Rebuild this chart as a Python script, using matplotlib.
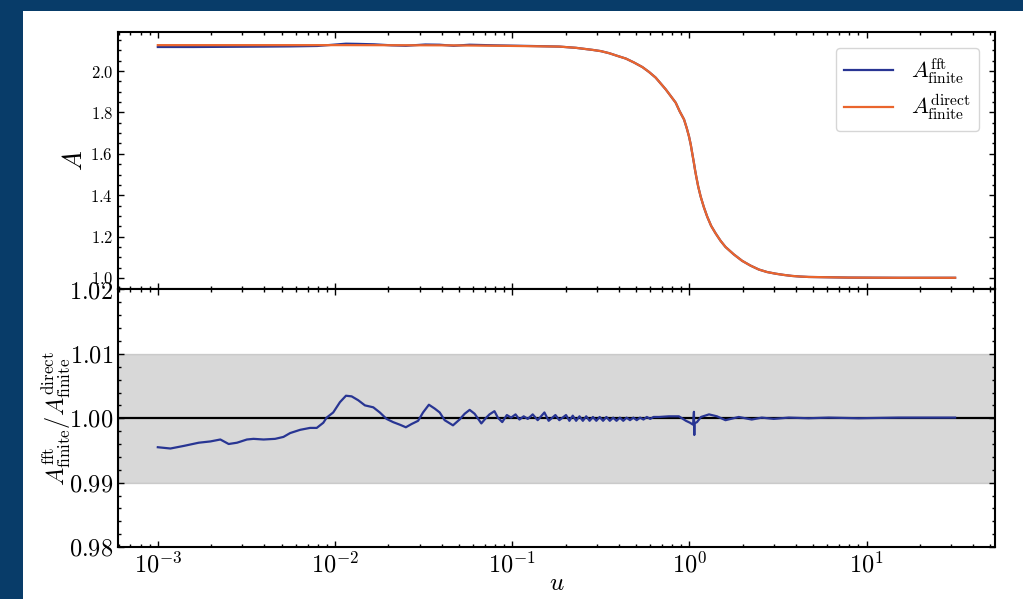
import numpy as np
import matplotlib
matplotlib.use('Agg')
import matplotlib.pyplot as plt
from matplotlib.patches import Rectangle
from matplotlib.ticker import AutoMinorLocator, MultipleLocator

# log10(u) positions and values
ratio_logu = [-3.000, -2.929, -2.854, -2.769, -2.703, -2.647, -2.600, -2.553, -2.497, -2.460,
              -2.403, -2.338, -2.291, -2.253, -2.197, -2.141, -2.103, -2.066, -2.047, -2.010,
              -1.972, -1.938, -1.906, -1.869, -1.831, -1.784, -1.747, -1.709, -1.672, -1.634,
              -1.600, -1.568, -1.531, -1.503, -1.470, -1.437, -1.409, -1.381, -1.334, -1.297,
              -1.268, -1.240, -1.212, -1.174, -1.146, -1.128, -1.100, -1.081, -1.056, -1.030,
              -1.006, -0.981, -0.959, -0.935, -0.912, -0.884, -0.856, -0.818, -0.794, -0.756,
              -0.734, -0.696, -0.677, -0.658, -0.639, -0.620, -0.601, -0.582, -0.563, -0.544,
              -0.525, -0.506, -0.487, -0.468, -0.449, -0.430, -0.411, -0.392, -0.373, -0.354,
              -0.335, -0.316, -0.297, -0.278, -0.259, -0.240, -0.221, -0.202, -0.171, -0.115,
              -0.059, -0.019, 0.004, 0.021, 0.026, 0.028, 0.029, 0.043, 0.066, 0.111,
              0.156, 0.204, 0.279, 0.352, 0.409, 0.476, 0.561, 0.673, 0.786, 0.955,
              1.180, 1.500]
ratio = [0.9955, 0.9953, 0.9957, 0.9962, 0.9964, 0.9967, 0.9960, 0.9962, 0.9967, 0.9968,
         0.9967, 0.9968, 0.9971, 0.9977, 0.9982, 0.9985, 0.9985, 0.9993, 1.0001, 1.0009,
         1.0025, 1.0035, 1.0034, 1.0028, 1.0020, 1.0017, 1.0009, 0.9999, 0.9994, 0.9990,
         0.9986, 0.9991, 0.9996, 1.0009, 1.0021, 1.0015, 1.0009, 0.9997, 0.9989, 0.9998,
         1.0007, 1.0013, 1.0007, 0.9992, 1.0001, 1.0006, 1.0011, 1.0001, 0.9994, 1.0005,
         1.0001, 1.0006, 0.9998, 1.0003, 0.9999, 1.0006, 0.9997, 1.0009, 0.9996, 1.0005,
         0.9997, 1.0005, 0.9996, 1.0004, 0.9996, 1.0003, 0.9996, 1.0003, 0.9996, 1.0002,
         0.9996, 1.0002, 0.9996, 1.0002, 0.9996, 1.0001, 0.9996, 1.0001, 0.9996, 1.0001,
         0.9997, 1.0001, 0.9997, 1.0001, 0.9998, 1.0002, 0.9999, 1.0002, 1.0002, 1.0003,
         1.0003, 0.9996, 0.9993, 0.9990, 1.0010, 0.9974, 0.9992, 0.9994, 1.0002, 1.0006,
         1.0003, 0.9997, 1.0002, 0.9998, 1.0001, 0.9999, 1.0001, 1.0000, 1.0001, 1.0000,
         1.0001, 1.0001]

direct_logu = [-3.000, -2.478, -1.916, -1.353, -1.072, -0.734, -0.640, -0.546, -0.499, -0.452,
               -0.406, -0.358, -0.312, -0.265, -0.227, -0.190, -0.162, -0.133, -0.105, -0.077,
               -0.055, -0.030, -0.015, -0.002, 0.008, 0.016, 0.026, 0.032, 0.039, 0.050,
               0.064, 0.082, 0.101, 0.123, 0.148, 0.176, 0.204, 0.251, 0.298, 0.345,
               0.392, 0.438, 0.486, 0.532, 0.579, 0.626, 0.673, 0.898, 1.180, 1.500]
A_direct = [2.125, 2.125, 2.125, 2.124, 2.122, 2.118, 2.112, 2.102, 2.096, 2.086,
            2.073, 2.060, 2.041, 2.019, 1.995, 1.968, 1.940, 1.911, 1.879, 1.847,
            1.806, 1.766, 1.725, 1.684, 1.644, 1.604, 1.555, 1.523, 1.490, 1.442,
            1.393, 1.342, 1.296, 1.252, 1.216, 1.180, 1.150, 1.114, 1.083, 1.060,
            1.041, 1.029, 1.021, 1.015, 1.010, 1.007, 1.005, 1.002, 1.001, 1.001]

# fft curve where it differs visibly from the direct one; afterwards it follows it
fft_head_logu = [-3.000, -2.800, -2.600, -2.400, -2.250, -2.100, -2.010, -1.938, -1.870, -1.780,
                 -1.680, -1.600, -1.490, -1.410, -1.330, -1.240, -1.100, -0.900]
fft_head = [2.116, 2.116, 2.117, 2.118, 2.119, 2.121, 2.127, 2.132, 2.131, 2.129,
            2.124, 2.122, 2.128, 2.127, 2.122, 2.127, 2.124, 2.121]

fft_logu = fft_head_logu + direct_logu[5:]
A_fft = fft_head + A_direct[5:]

c_fft = '#283593'
c_direct = '#ea652d'

plt.rcParams['font.family'] = 'serif'
plt.rcParams['font.serif'] = ['cmr10']
plt.rcParams['mathtext.fontset'] = 'cm'
plt.rcParams['axes.formatter.use_mathtext'] = True
plt.rcParams['axes.unicode_minus'] = False
for ax_name in ['xtick', 'ytick']:
    plt.rcParams[ax_name + '.direction'] = 'in'
    plt.rcParams[ax_name + '.major.size'] = 4.5
    plt.rcParams[ax_name + '.minor.size'] = 2.2
plt.rcParams['xtick.top'] = True
plt.rcParams['ytick.right'] = True

fig, (ax1, ax2) = plt.subplots(2, 1, sharex=True, figsize=(10.23, 5.99), dpi=100)
fig.patch.set_facecolor('#083c69')
fig.add_artist(Rectangle((23 / 1023, 0), 1 - 23 / 1023, 588 / 599, transform=fig.transFigure,
                         facecolor='white', edgecolor='none', zorder=-10))
fig.subplots_adjust(left=0.1153, right=0.9726, top=0.9466, bottom=0.0868, hspace=0)

ax1.plot(10 ** np.array(fft_logu), A_fft, color=c_fft, lw=1.6, label=r'$A^{\rm fft}_{\rm finite}$')
ax1.plot(10 ** np.array(direct_logu), A_direct, color=c_direct, lw=1.6,
         label=r'$A^{\rm direct}_{\rm finite}$')
ax1.set_xscale('log')
ax1.set_ylabel(r'$A$', fontsize=19, labelpad=2)
ax1.yaxis.set_minor_locator(AutoMinorLocator())
ax1.tick_params(axis='y', labelsize=12)
ax1.legend(loc='upper right', fontsize=16, labelspacing=0.3, handlelength=2.2,
           borderaxespad=0.7)

ax2.axhspan(0.99, 1.01, color='gray', alpha=0.3)
ax2.axhline(1.0, color='k', lw=1.6)
ax2.plot(10 ** np.array(ratio_logu), ratio, color=c_fft, lw=1.6)
ax2.set_ylim(0.98, 1.02)
ax2.yaxis.set_major_locator(MultipleLocator(0.01))
ax2.yaxis.set_minor_locator(AutoMinorLocator())
ax2.tick_params(axis='both', labelsize=17.5)
ax2.set_xlabel(r'$u$', fontsize=18, labelpad=-3)
ax2.set_ylabel(r'$A^{\rm fft}_{\rm finite}/A^{\rm direct}_{\rm finite}$', fontsize=17.5,
               labelpad=-3)

for ax in (ax1, ax2):
    for s in ax.spines.values():
        s.set_linewidth(1.5)
    ax.tick_params(which='both', width=1.0)

fig.savefig('out.png', dpi=100)
